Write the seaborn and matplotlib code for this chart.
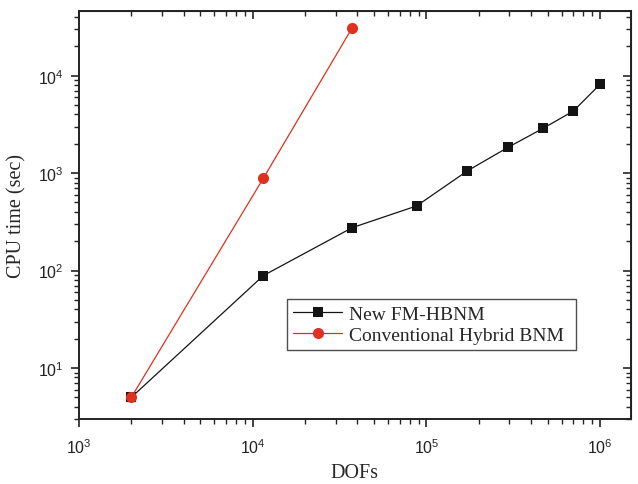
import matplotlib
matplotlib.use("Agg")
import matplotlib.pyplot as plt
import seaborn as sns
import pandas as pd

# Degrees of freedom and CPU time for the two solvers
fm_dofs = [2000, 11520, 37400, 87700, 172000, 296000, 471000, 700000, 1000000]
fm_time = [5.0, 89, 276, 461, 1056, 1849, 2897, 4336, 8200]

conv_dofs = [2000, 11520, 37400]
conv_time = [5.0, 889, 31100]

series_names = ["New FM-HBNM", "Conventional Hybrid BNM"]
x_label = "DOFs"
y_label = "CPU time (sec)"

sns.set_style("ticks")
plt.rcParams["font.family"] = ["Liberation Sans", "DejaVu Sans"]
plt.rcParams["mathtext.fontset"] = "custom"
plt.rcParams["mathtext.rm"] = "Liberation Sans"
plt.rcParams["mathtext.default"] = "rm"

fig = plt.figure(figsize=(6.38, 4.85), dpi=100)
ax = fig.add_axes([0.1238, 0.134, 0.865, 0.841])

fm = pd.DataFrame({"dofs": fm_dofs, "time": fm_time})
conv = pd.DataFrame({"dofs": conv_dofs, "time": conv_time})

sns.lineplot(data=fm, x="dofs", y="time", ax=ax, color="#141414", lw=0.9,
             marker="s", markersize=7.5, markeredgewidth=0, sort=False,
             label=series_names[0], zorder=3)
sns.lineplot(data=conv, x="dofs", y="time", ax=ax, color="#e0301e", lw=0.9,
             marker="o", markersize=8, markeredgewidth=0, sort=False,
             label=series_names[1], zorder=4)

ax.set_xscale("log")
ax.set_yscale("log")
ax.set_xlim(1e3, 1.5e6)
ax.set_ylim(3.0, 4.6e4)

serif = ["Liberation Serif", "DejaVu Serif"]
ax.set_xlabel(x_label, family=serif, fontsize=14.5, labelpad=5)
ax.set_ylabel(y_label, family=serif, fontsize=14.5, labelpad=8)

for s in ax.spines.values():
    s.set_linewidth(1.4)
    s.set_color("#222222")

ax.tick_params(axis="both", which="major", direction="out", length=6,
               width=1.2, labelsize=11.5, colors="#222222")
ax.tick_params(axis="both", which="minor", direction="out", length=3.5,
               width=1.0, colors="#222222")
ax.tick_params(axis="x", which="major", pad=7)
ax.tick_params(axis="y", which="major", pad=5)

# Mirrored inward ticks on the top and right edges
top = ax.secondary_xaxis("top")
top.tick_params(which="major", direction="in", length=6, width=1.2, labeltop=False)
top.tick_params(which="minor", direction="in", length=3.5, width=1.0)
right = ax.secondary_yaxis("right")
right.tick_params(which="major", direction="in", length=6, width=1.2, labelright=False)
right.tick_params(which="minor", direction="in", length=3.5, width=1.0)

leg = ax.legend(loc="lower left", bbox_to_anchor=(0.377, 0.169, 0.523, 0.125),
                mode="expand", prop={"family": serif, "size": 14},
                frameon=True, fancybox=False, edgecolor="#222222",
                handlelength=2.55, handletextpad=0.35, borderpad=0.3,
                labelspacing=0.2, borderaxespad=0)
leg.get_frame().set_linewidth(1.0)

fig.savefig("out.png", dpi=100)
